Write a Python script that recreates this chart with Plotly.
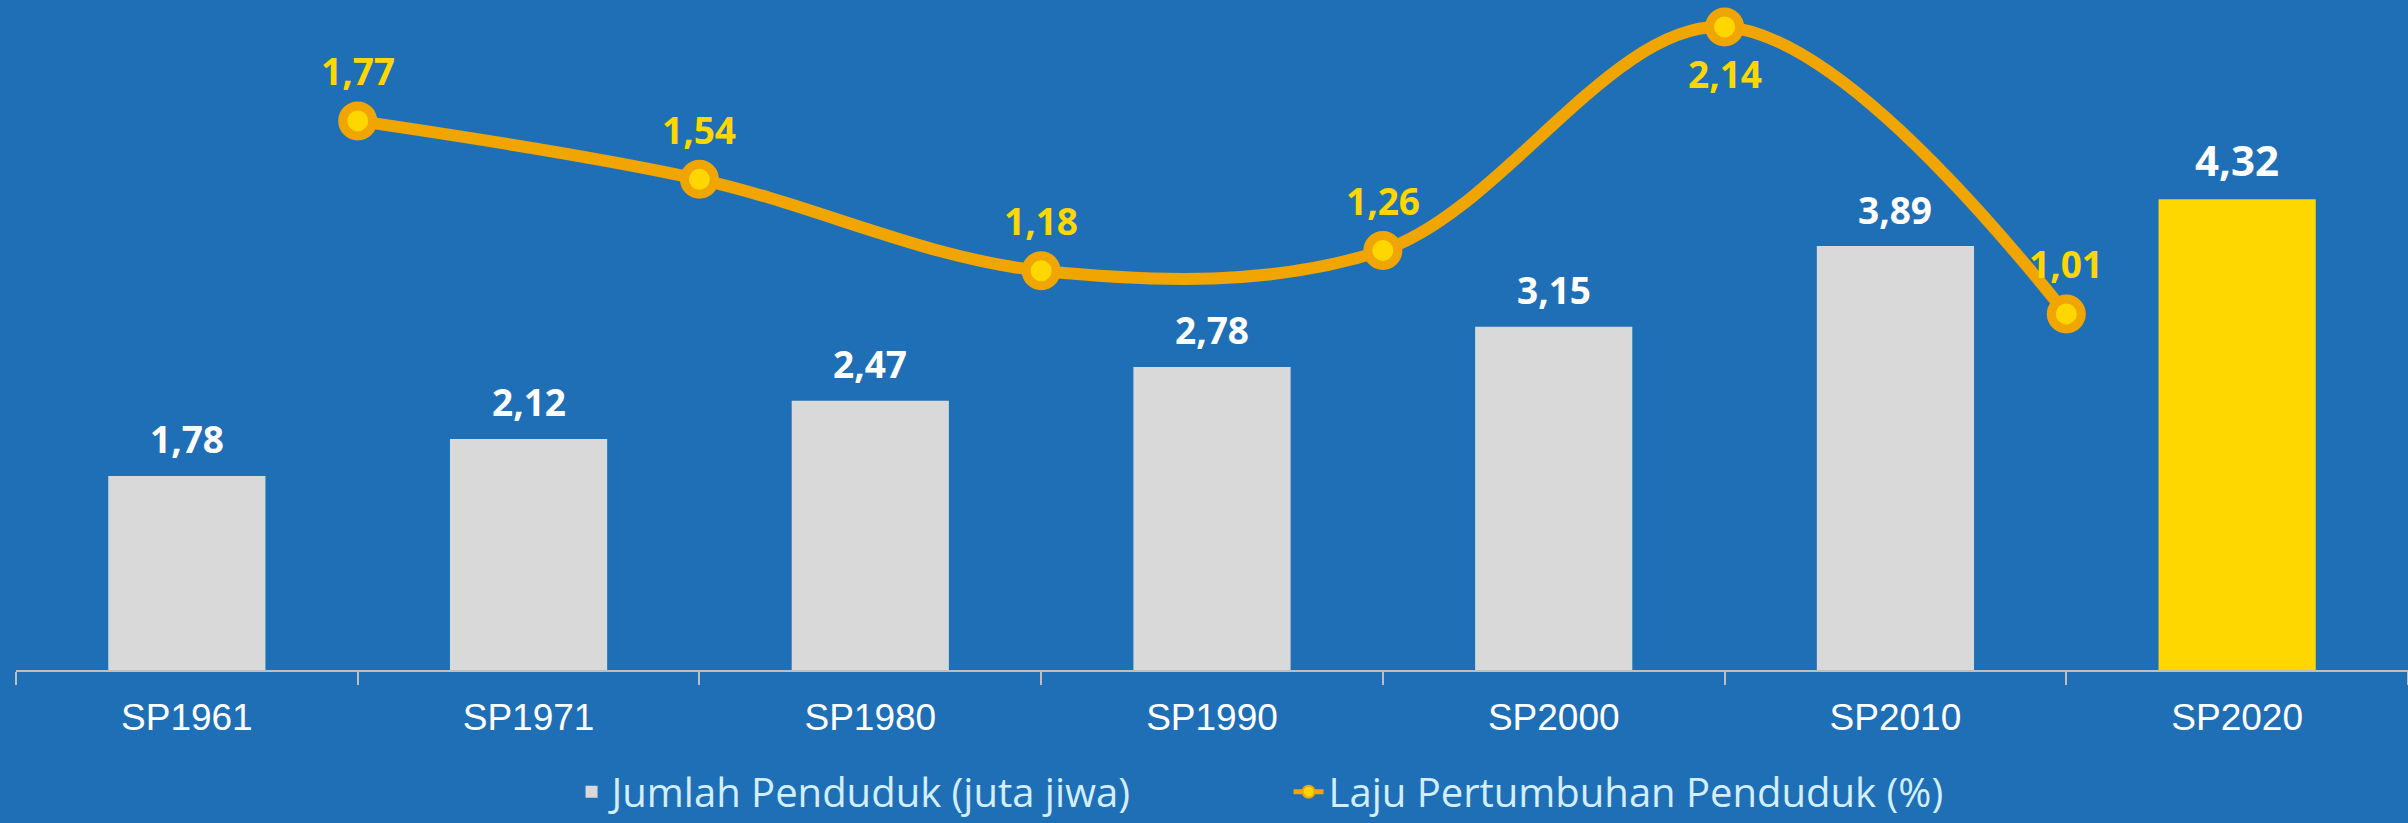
import plotly.graph_objects as go

# ---- data ----
censuses = ["SP1961", "SP1971", "SP1980", "SP1990", "SP2000", "SP2010", "SP2020"]
population = [1.78, 2.12, 2.47, 2.78, 3.15, 3.89, 4.32]          # juta jiwa
growth = [1.77, 1.54, 1.18, 1.26, 2.14, 1.01]                    # % per periode antar sensus
growth_label_below = [False, False, False, False, True, False]

BAR_NAME = "Jumlah Penduduk (juta jiwa)"
LINE_NAME = "Laju Pertumbuhan Penduduk (%)"

# ---- styles ----
BG = "#1F6FB7"
GREY = "#D9D9D9"
GOLD = "#FFD700"
ORANGE = "#F0A500"
AXIS = "#BFBFBF"
LEGEND_TXT = "#D2EEFF"
LABEL_FONT = "Open Sans"

bar_colors = [GREY] * (len(censuses) - 1) + [GOLD]
# growth periods sit between two consecutive censuses
growth_x = [i + 0.5 for i in range(len(growth))]


def fmt(v):
    return f"{v:.2f}".replace(".", ",")


fig = go.Figure()
fig.add_trace(go.Bar(
    x=censuses, y=population, name=BAR_NAME,
    marker=dict(color=bar_colors, line=dict(width=0)),
    width=0.46, xaxis="x", yaxis="y", hoverinfo="skip",
))
fig.add_trace(go.Scatter(
    x=growth_x, y=growth, name=LINE_NAME, xaxis="x2", yaxis="y2",
    mode="lines+markers",
    line=dict(color=ORANGE, width=12, shape="spline", smoothing=1.0),
    marker=dict(size=30, color=GOLD, line=dict(color=ORANGE, width=9)),
    hoverinfo="skip",
))

annotations = []
for i, (c, v) in enumerate(zip(censuses, population)):
    last = i == len(censuses) - 1
    annotations.append(dict(
        x=c, y=v, xref="x", yref="y", text=f"<b>{fmt(v)}</b>", showarrow=False,
        yanchor="middle", yshift=40 if last else 37,
        font=dict(family=LABEL_FONT, size=42 if last else 37, color="white"),
    ))
for xv, v, below in zip(growth_x, growth, growth_label_below):
    annotations.append(dict(
        x=xv, y=v, xref="x2", yref="y2", text=f"<b>{fmt(v)}</b>", showarrow=False,
        yanchor="middle", yshift=-47 if below else 50,
        font=dict(family=LABEL_FONT, size=37, color=GOLD),
    ))

fig.update_layout(
    width=2408, height=823,
    margin=dict(l=16, r=0, t=0, b=153),
    paper_bgcolor=BG, plot_bgcolor=BG,
    separators=",.",
    showlegend=True,
    legend=dict(
        orientation="h", x=0.532, xanchor="center",
        yref="container", y=0.038, yanchor="middle",
        font=dict(family="Open Sans", size=40, color=LEGEND_TXT),
        bgcolor="rgba(0,0,0,0)", itemsizing="constant", entrywidth=672,
    ),
    xaxis=dict(
        type="category", range=[-0.5, len(censuses) - 0.5],
        tickson="boundaries", ticks="outside", ticklen=13, tickwidth=2, tickcolor=AXIS,
        showline=True, linecolor=AXIS, linewidth=2, showgrid=False, zeroline=False,
        tickfont=dict(family="Liberation Sans Narrow, Liberation Sans, Arial", size=37, color="white"),
        ticklabelstandoff=14,
        fixedrange=True,
    ),
    xaxis2=dict(
        overlaying="x", range=[-0.5, len(censuses) - 0.5], visible=False, fixedrange=True,
    ),
    yaxis=dict(range=[0, 6.147], visible=False, fixedrange=True),
    yaxis2=dict(overlaying="y", range=[-0.392, 2.246], visible=False, fixedrange=True),
    annotations=annotations,
)

fig.write_html(
    "out.html",
    config={"displayModeBar": False},
    post_script="document.body.style.margin='0';document.body.style.overflow='hidden';",
)
